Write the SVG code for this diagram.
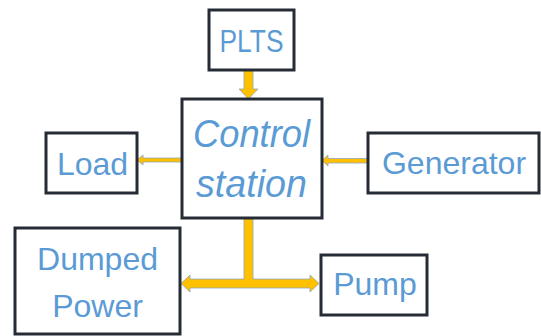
<svg xmlns="http://www.w3.org/2000/svg" width="541" height="336" viewBox="0 0 541 336">
<style>
.box{fill:#fff;stroke:#262c36;stroke-width:3}
.lbl{font-family:"Liberation Sans",Arial,sans-serif;font-size:32px;fill:#5b9bd5;text-anchor:middle}
.it{font-style:italic;font-size:38px}
.arr{fill:#ffc000;stroke:#8fa3b8;stroke-width:0.8;stroke-linejoin:miter}
</style>
<rect width="541" height="336" fill="#fff"/>
<g id="connectors">
<polygon class="arr" points="244,70 253,70 253,89 258,89 248.5,99 239,89 244,89"/>
<polygon class="arr" points="182,158 143,158 143,155 137,160 143,165 143,162 182,162"/>
<polygon class="arr" points="368,158.5 328,158.5 328,155 322,160.5 328,166 328,163 368,163"/>
<polygon class="arr" points="244,218 253,218 253,279 310,279 310,275 319,283.5 310,292 310,288 190,288 190,292 181,283.5 190,275 190,279 244,279"/>
</g>
<g id="plts"><rect class="box" x="209" y="10" width="85" height="60"/><text class="lbl" x="251.5" y="52" font-size="34" textLength="64" lengthAdjust="spacingAndGlyphs">PLTS</text></g>
<g id="control"><rect class="box" x="182" y="99" width="140" height="119"/><text class="lbl it" x="251.5" y="147" textLength="117" lengthAdjust="spacingAndGlyphs">Control</text><text class="lbl it" x="251.5" y="197" textLength="111" lengthAdjust="spacingAndGlyphs">station</text></g>
<g id="load"><rect class="box" x="46" y="133" width="91" height="60"/><text class="lbl" x="92.5" y="175">Load</text></g>
<g id="generator"><rect class="box" x="368" y="133" width="171" height="60"/><text class="lbl" x="454" y="174">Generator</text></g>
<g id="dumped"><rect class="box" x="15" y="228" width="165" height="106"/><text class="lbl" x="97.5" y="270">Dumped</text><text class="lbl" x="97.5" y="317">Power</text></g>
<g id="pump"><rect class="box" x="321" y="255" width="106" height="60"/><text class="lbl" x="375" y="295">Pump</text></g>
</svg>
